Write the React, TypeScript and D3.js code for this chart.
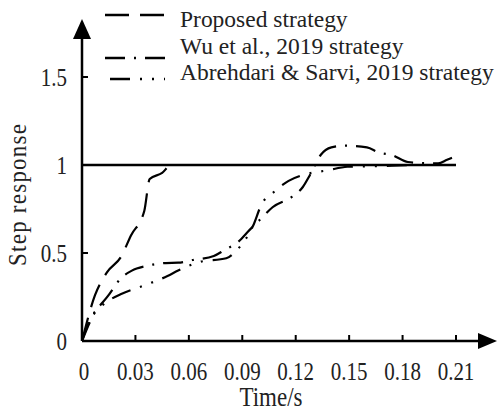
import * as d3 from 'd3';
import React, { useEffect, useRef } from 'react';

// tick values
const timeTicks = [0, 0.03, 0.06, 0.09, 0.12, 0.15, 0.18, 0.21];
const timeTickLabels = ['0', '0.03', '0.06', '0.09', '0.12', '0.15', '0.18', '0.21'];
const respTicks = [0, 0.5, 1, 1.5];
const respTickLabels = ['0', '0.5', '1', '1.5'];

// reference level
const refTime = [0, 0.21];
const refResp = [1, 1];

// proposed strategy
const proposedTime = [0, 0.0073, 0.014, 0.022, 0.0275, 0.035, 0.038, 0.045, 0.05, 0.1, 0.15, 0.21];
const proposedResp = [0, 0.26, 0.39, 0.48, 0.6, 0.74, 0.92, 0.955, 1, 1, 1, 1];

// Wu et al., 2019
const wuTime = [0, 0.006, 0.0146, 0.022, 0.028, 0.036, 0.047, 0.054, 0.062, 0.074, 0.08, 0.0876, 0.094, 0.1, 0.107, 0.118, 0.124, 0.128, 0.134, 0.14, 0.148, 0.16, 0.167, 0.174, 0.183, 0.195, 0.2, 0.205, 0.21];
const wuResp = [0, 0.14, 0.256, 0.358, 0.4, 0.426, 0.443, 0.445, 0.46, 0.483, 0.517, 0.5625, 0.63, 0.69, 0.76, 0.82, 0.875, 0.943, 1.057, 1.1, 1.11, 1.1, 1.07, 1.057, 1.017, 1.01, 1.01, 1.03, 1.05];

// Abrehdari & Sarvi, 2019
const abrTime = [0, 0.006, 0.009, 0.0146, 0.022, 0.0326, 0.04, 0.048, 0.054, 0.066, 0.081, 0.087, 0.096, 0.101, 0.107, 0.116, 0.124, 0.138, 0.149, 0.166, 0.19, 0.21];
const abrResp = [0, 0.15, 0.18, 0.227, 0.267, 0.307, 0.335, 0.369, 0.4, 0.449, 0.47, 0.517, 0.653, 0.78, 0.84, 0.91, 0.943, 0.97, 0.99, 0.994, 1, 1];

const legendNames = ['Proposed strategy', 'Wu et al., 2019 strategy', 'Abrehdari & Sarvi, 2019 strategy'];
const dashes = ['24 11', '20 9 2 9', '20 10 2 10 2 10'];

export default function App() {
  const ref = useRef<SVGSVGElement>(null);
  const width = 498;
  const height = 412;

  useEffect(() => {
    const svg = d3.select(ref.current);
    svg.selectAll('*').remove();

    const font = '"Liberation Serif", "Times New Roman", serif';
    const x = d3.scaleLinear().domain([0, 0.21]).range([82, 456]);
    const y = d3.scaleLinear().domain([0, 1.5]).range([341, 77]);

    const line = d3.line<[number, number]>()
      .x(d => x(d[0]))
      .y(d => y(d[1]))
      .curve(d3.curveMonotoneX);

    const zip = (a: number[], b: number[]) => a.map((t, i) => [t, b[i]] as [number, number]);

    // axes
    const g = svg.append('g').attr('stroke', '#000').attr('stroke-width', 2.5);
    g.append('line').attr('x1', x(0)).attr('x2', 485).attr('y1', y(0)).attr('y2', y(0));
    g.append('line').attr('x1', x(0)).attr('x2', x(0)).attr('y1', y(0)).attr('y2', 34);
    svg.append('path').attr('d', `M${x(0)},19 L${x(0) - 9},39 L${x(0) + 9},39 Z`).attr('fill', '#000');
    svg.append('path').attr('d', `M497,${y(0)} L478,${y(0) - 8} L478,${y(0) + 8} Z`).attr('fill', '#000');

    // ticks
    svg.selectAll('.xt').data(timeTicks.slice(1)).enter().append('line')
      .attr('x1', d => x(d)).attr('x2', d => x(d))
      .attr('y1', y(0)).attr('y2', y(0) - 6)
      .attr('stroke', '#000').attr('stroke-width', 2);
    svg.selectAll('.yt').data(respTicks.slice(1)).enter().append('line')
      .attr('x1', x(0)).attr('x2', x(0) + 6)
      .attr('y1', d => y(d)).attr('y2', d => y(d))
      .attr('stroke', '#000').attr('stroke-width', 2);

    const txt = (s: string, px: number, py: number, anchor: string, size = 21, sy = 1.15) =>
      svg.append('text')
        .attr('transform', `translate(${px},${py}) scale(1,${sy})`)
        .attr('text-anchor', anchor)
        .attr('dominant-baseline', 'central')
        .attr('font-family', font)
        .attr('font-size', size)
        .attr('fill', '#222')
        .text(s);

    timeTicks.forEach((t, i) => txt(timeTickLabels[i], x(t) + (i === 0 ? 2 : 0), 372, 'middle'));
    respTicks.forEach((v, i) => txt(respTickLabels[i], 67, y(v) + 1, 'end'));

    txt('Time/s', 271, 397, 'middle', 23);
    svg.append('text')
      .attr('transform', 'translate(17,195) rotate(-90) scale(1,1.1)')
      .attr('text-anchor', 'middle')
      .attr('dominant-baseline', 'central')
      .attr('font-family', font)
      .attr('font-size', 23)
      .attr('fill', '#222')
      .attr('textLength', 142)
      .attr('lengthAdjust', 'spacing')
      .text('Step response');

    // reference
    svg.append('path').attr('d', line(zip(refTime, refResp)))
      .attr('fill', 'none').attr('stroke', '#000').attr('stroke-width', 2.5);

    const series = [zip(proposedTime, proposedResp), zip(wuTime, wuResp), zip(abrTime, abrResp)];
    series.forEach((s, i) => {
      svg.append('path').attr('d', line(s))
        .attr('fill', 'none').attr('stroke', '#000').attr('stroke-width', 2.2)
        .attr('stroke-dasharray', dashes[i]);
    });

    // legend
    const legLineY = [15, 58, 79];
    const legTextY = [19, 46, 72];
    const legX0 = [105, 105, 110];
    legendNames.forEach((n, i) => {
      svg.append('line').attr('x1', legX0[i]).attr('x2', 165)
        .attr('y1', legLineY[i]).attr('y2', legLineY[i])
        .attr('stroke', '#000').attr('stroke-width', 2.5)
        .attr('stroke-dasharray', dashes[i]);
      txt(n, 180, legTextY[i], 'start', 23.5, 1.02);
    });
  }, []);

  return (
    <svg ref={ref} width={width} height={height}
      style={{ position: 'absolute', left: 0, top: 0, background: '#fff' }} />
  );
}
